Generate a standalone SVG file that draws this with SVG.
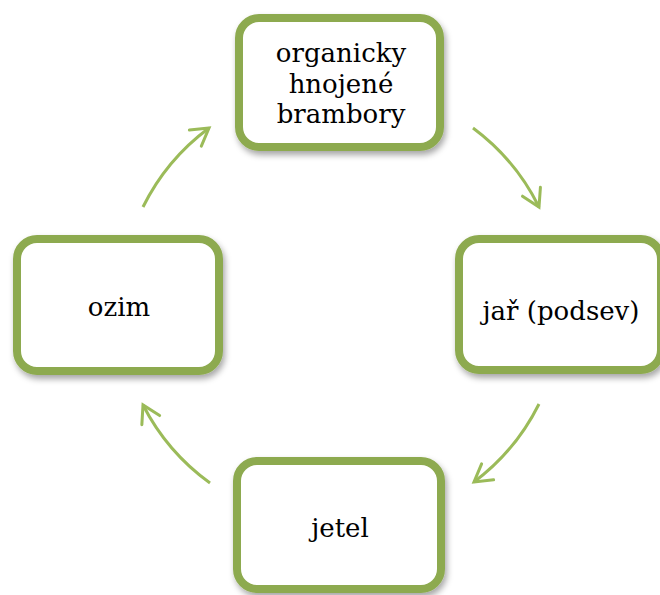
<svg xmlns="http://www.w3.org/2000/svg" width="660" height="595" viewBox="0 0 660 595">
  <style>
    .box { fill: #ffffff; stroke: #8DAA50; stroke-width: 8; filter: url(#shadow); }
    .lbl { font-family: "DejaVu Serif", "Liberation Serif", serif; font-size: 26px; fill: #000000; text-anchor: middle; }
    .arc { fill: none; stroke: #9BBB59; stroke-width: 3; marker-end: url(#head); }
  </style>
  <defs>
    <filter id="shadow" x="-10%" y="-10%" width="125%" height="130%">
      <feDropShadow dx="2" dy="4" stdDeviation="3" flood-color="#000000" flood-opacity="0.35"/>
    </filter>
    <marker id="head" markerUnits="userSpaceOnUse" markerWidth="30" markerHeight="30" viewBox="-20 -15 25 30" refX="0" refY="0" orient="auto">
      <path d="M-17,-10 L0,0 L-17,10" fill="none" stroke="#9BBB59" stroke-width="3" stroke-linecap="round" stroke-linejoin="miter"/>
    </marker>
  </defs>
  <rect width="660" height="595" fill="#ffffff"/>
  <g id="connectors">
    <path class="arc" d="M143,207 A220,220 0 0 1 209,128"/>
    <path class="arc" d="M473,128 A220,220 0 0 1 539,207"/>
    <path class="arc" d="M539,404 A220,220 0 0 1 474,482"/>
    <path class="arc" d="M210,483 A220,220 0 0 1 143,405"/>
  </g>
  <g id="node-brambory">
    <rect class="box" x="239" y="18" width="201" height="129" rx="20"/>
    <text class="lbl" x="341" y="62">organicky</text>
    <text class="lbl" x="341" y="92.5">hnojené</text>
    <text class="lbl" x="341" y="123">brambory</text>
  </g>
  <g id="node-jar">
    <rect class="box" x="459" y="239" width="202" height="131" rx="20"/>
    <text class="lbl" x="561" y="320">jař (podsev)</text>
  </g>
  <g id="node-ozim">
    <rect class="box" x="17" y="239" width="202" height="132" rx="20"/>
    <text class="lbl" x="119" y="316">ozim</text>
  </g>
  <g id="node-jetel">
    <rect class="box" x="237" y="461" width="204" height="128" rx="20"/>
    <text class="lbl" x="340" y="537">jetel</text>
  </g>
</svg>
